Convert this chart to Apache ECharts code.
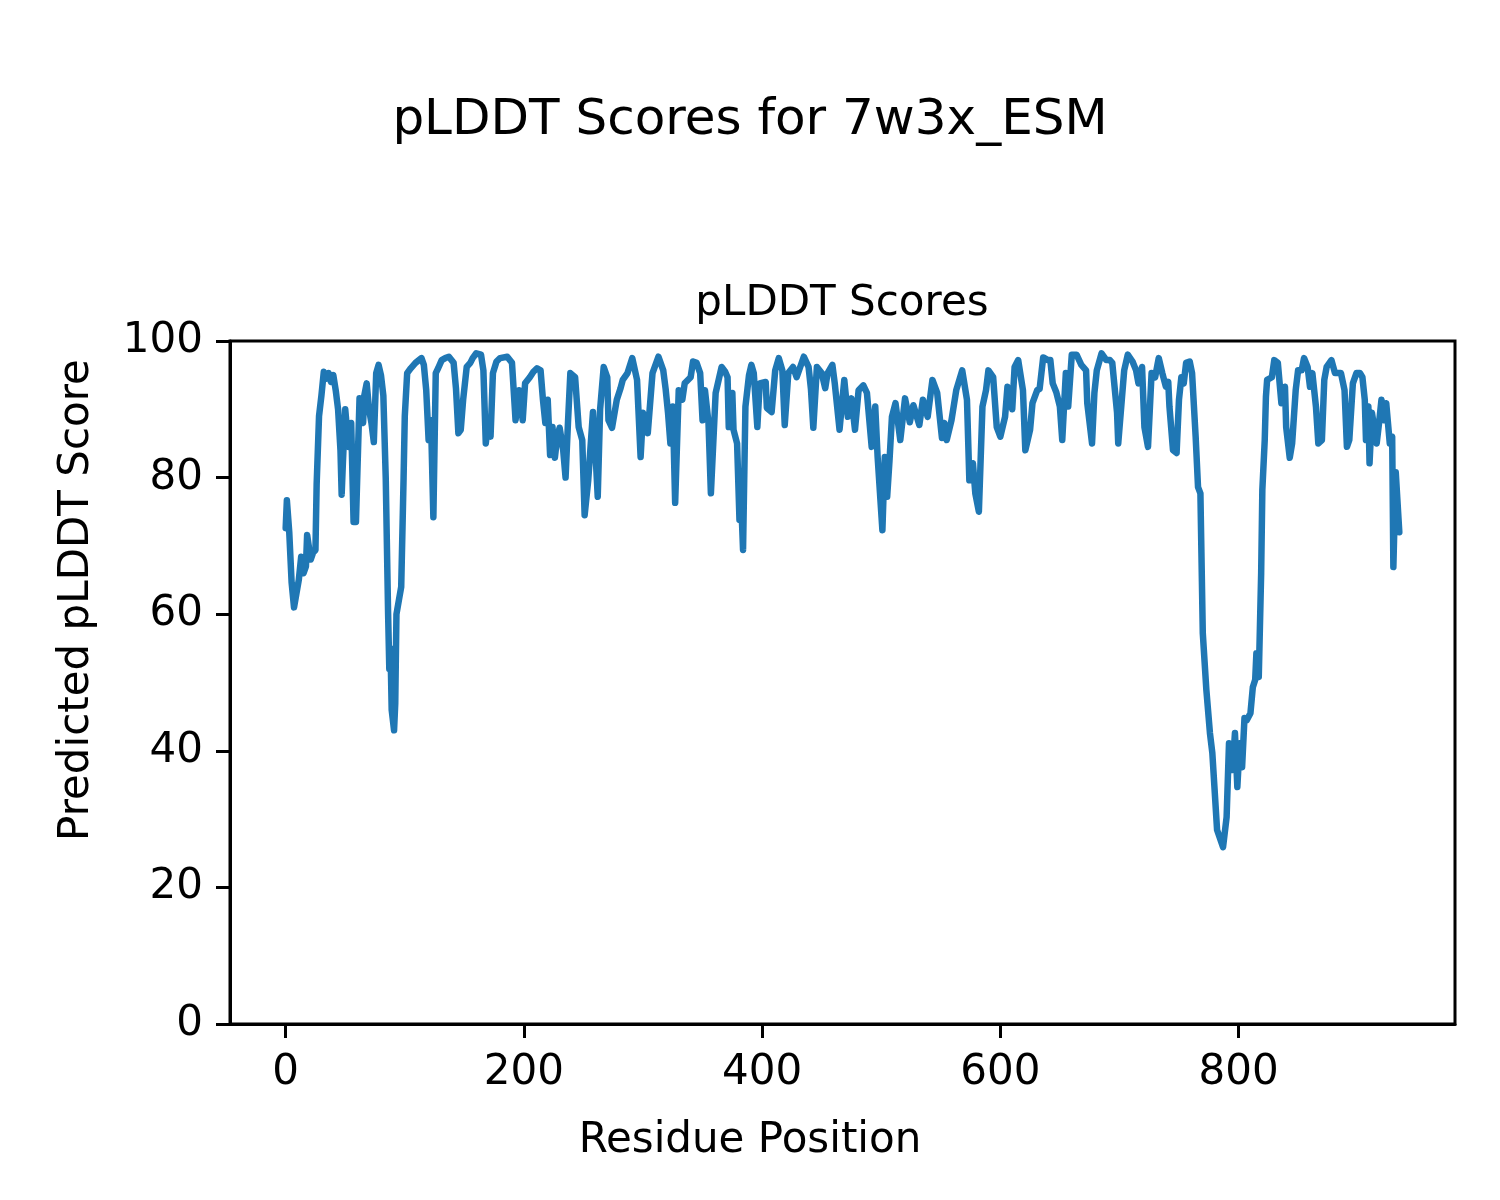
<!DOCTYPE html>
<html>
<head>
<meta charset="utf-8">
<title>pLDDT Scores for 7w3x_ESM</title>
<script src="https://cdn.jsdelivr.net/npm/echarts@6/dist/echarts.min.js"></script>
<style>
  html, body { margin: 0; padding: 0; background: #fff; }
  #main { width: 1500px; height: 1200px; }
</style>
</head>
<body>
<div id="main"></div>
<script>
// residue index and predicted pLDDT
var residues = [
  0, 1, 3, 5, 7, 9, 11, 13, 15, 17, 18, 21, 23, 25, 26, 28, 30, 32, 34, 36,
  38, 40, 42, 44, 46, 47, 48, 50, 52, 53, 55, 57, 59, 62, 63, 65, 66, 68, 70, 72,
  74, 76, 78, 80, 82, 84, 86, 87, 88, 89, 91, 92, 93, 95, 97, 98, 99, 100, 102, 105,
  109, 114, 116, 118, 120, 122, 124, 126, 128, 131, 134, 137, 141, 143, 145, 147, 149, 152, 155, 157,
  160, 164, 166, 168, 170, 172, 174, 177, 180, 186, 190, 193, 196, 199, 201, 205, 208, 211, 214, 216,
  218, 220, 222, 224, 226, 228, 230, 233, 235, 237, 239, 243, 246, 249, 251, 254, 258, 260, 262, 264,
  267, 270, 271, 274, 278, 281, 283, 287, 291, 295, 298, 300, 304, 308, 313, 317, 319, 321, 323, 325,
  327, 330, 333, 335, 340, 342, 345, 348, 350, 352, 355, 357, 361, 366, 369, 371, 372, 375, 376, 379,
  381, 383, 384, 386, 389, 391, 393, 396, 398, 403, 404, 408, 411, 414, 417, 419, 422, 426, 429, 432,
  435, 439, 441, 443, 446, 450, 453, 455, 459, 461, 465, 469, 472, 475, 478, 481, 485, 488, 492, 495,
  497, 501, 503, 505, 507, 509, 512, 516, 520, 524, 527, 532, 535, 539, 543, 547, 551, 553, 555, 559,
  563, 568, 572, 574, 577, 579, 582, 585, 588, 590, 594, 597, 600, 604, 606, 610, 612, 615, 619, 621,
  625, 627, 631, 633, 636, 640, 642, 644, 647, 650, 652, 655, 657, 660, 664, 668, 672, 673, 677, 679,
  681, 685, 689, 692, 694, 698, 699, 702, 704, 707, 711, 714, 716, 719, 721, 724, 727, 730, 733, 736,
  739, 741, 742, 745, 748, 750, 752, 754, 756, 759, 761, 764, 766, 768, 770, 773, 776, 778, 782, 787,
  790, 792, 795, 797, 799, 801, 803, 805, 807, 810, 812, 814, 815, 817, 819, 820, 822, 823, 824, 828,
  830, 833, 836, 839, 840, 843, 845, 848, 850, 853, 855, 858, 860, 862, 865, 867, 870, 872, 874, 878,
  881, 886, 889, 891, 893, 896, 899, 902, 904, 906, 907, 909, 910, 912, 916, 918, 920, 922, 924, 927,
  929, 930, 932, 935
];
var scores = [
  72.6, 76.7, 72, 64.6, 61, 63, 65, 68.4, 66, 67, 71.6, 68, 69, 69.4, 79, 89, 92, 95.5, 94.5, 95.3,
  94, 95, 92.8, 90, 84, 77.5, 82, 90, 86, 84.5, 88, 73.5, 73.5, 91.6, 90, 88, 92, 93.8, 90, 88,
  85.2, 95.3, 96.5, 95, 92, 80, 60, 52, 55, 46, 43, 47, 60, 62, 64, 64, 80, 89, 95.3, 96,
  96.8, 97.5, 96.5, 92.8, 85.5, 88.4, 74.2, 95.3, 96, 97.2, 97.5, 97.7, 96.8, 93, 86.5, 87, 91.4, 96.2, 96.8, 97.5,
  98.2, 98, 95.7, 85, 88, 86, 95.3, 97, 97.5, 97.7, 96.8, 88.4, 92.8, 88.4, 93.8, 94.7, 95.5, 96, 95.7, 91.4,
  88, 91.4, 83.3, 87.4, 82.9, 86, 87.3, 84, 80, 88, 95.3, 94.7, 87.4, 85.5, 74.5, 79.6, 89.6, 84, 77.2, 90,
  96.2, 94.7, 88.4, 87.3, 91.4, 93, 94.3, 95.3, 97.5, 94.3, 83, 89.5, 86.5, 95.3, 97.7, 95.7, 93, 89.5, 85, 90.4,
  76.3, 92.8, 91.4, 93.8, 94.7, 97, 96.8, 95.3, 88.4, 92.8, 88, 77.7, 92.4, 96.2, 95.5, 94.7, 87.4, 92.4, 87, 85,
  73.8, 74, 69.4, 90.4, 95, 96.5, 95.3, 87.4, 93.8, 94, 90.2, 89.6, 95.7, 97.5, 95.7, 87.7, 95.3, 96.2, 94.7, 96.2,
  97.7, 96.2, 93, 87.3, 96.2, 95.3, 93.1, 95.3, 96.5, 93.8, 87, 94.3, 88.9, 91.6, 87, 92.8, 93.5, 92.4, 84.5, 90.4,
  83, 72.3, 83, 77.2, 82.6, 88.9, 90.9, 85.5, 91.6, 88.1, 90.6, 87.7, 91.4, 88.9, 94.3, 92.4, 85.8, 88, 85.5, 88.4,
  92.8, 95.7, 91.4, 79.6, 82.1, 77.7, 75, 90.4, 92.8, 95.7, 94.7, 87.4, 86, 88.9, 93.3, 90, 96.2, 97.2, 92.8, 84,
  87, 90.9, 92.8, 93, 97.6, 97.2, 97.2, 93.8, 92.5, 90.4, 85.5, 95.3, 90.4, 98, 98, 96.5, 95.7, 90.9, 85, 92.4,
  95.7, 98.2, 97.2, 97.2, 96.8, 89.5, 85, 91.4, 95.7, 98, 97, 95.7, 93.8, 96.2, 87.4, 84.5, 95.3, 94.7, 97.5, 95.3,
  93.3, 94, 90.4, 84, 83.6, 91.4, 94.7, 93.8, 96.8, 97, 95.3, 86, 78.6, 77.7, 57.2, 48.9, 42.6, 39.7, 28.4, 25.9,
  30.3, 41.1, 37.2, 42.6, 34.7, 41.1, 37.6, 44.8, 44.5, 45.5, 49.3, 50.4, 54.3, 50.8, 66, 78.2, 85.5, 91.8, 94.3, 94.7,
  97.2, 96.8, 90.9, 93.3, 87.4, 82.9, 85, 92.8, 95.7, 95.7, 97.5, 96.2, 93.3, 95.3, 90.4, 85, 85.5, 94.3, 96.2, 97.2,
  95.3, 95.3, 92.8, 84.5, 85.5, 93.8, 95.3, 95.3, 94.7, 91.4, 85.5, 90.4, 82.1, 89.5, 85, 88, 91.4, 88.4, 90.9, 85,
  86, 66.9, 80.8, 72
];
var xTicks = [0, 200, 400, 600, 800];
var yTicks = [0, 20, 40, 60, 80, 100];

var FONT = 'DejaVu Sans';
var chart = echarts.init(document.getElementById('main'));

var points = residues.map(function (r, i) { return [r, scores[i]]; });

chart.setOption({
  animation: false,
  backgroundColor: '#ffffff',
  textStyle: { fontFamily: FONT, color: '#000' },
  title: [
    {
      text: 'pLDDT Scores for 7w3x_ESM',
      left: 'center',
      top: 96,
      padding: 0,
      textStyle: { fontSize: 50, fontWeight: 'normal', color: '#000', fontFamily: FONT }
    },
    {
      text: 'pLDDT Scores',
      left: 842,
      textAlign: 'center',
      top: 283,
      padding: 0,
      textStyle: { fontSize: 42, fontWeight: 'normal', color: '#000', fontFamily: FONT }
    },
    {
      text: 'Residue Position',
      left: 'center',
      top: 1120,
      padding: 0,
      textStyle: { fontSize: 42, fontWeight: 'normal', color: '#000', fontFamily: FONT }
    }
  ],
  graphic: [
    {
      type: 'text',
      x: 77,
      y: 600,
      rotation: Math.PI / 2,
      style: {
        text: 'Predicted pLDDT Score',
        fontSize: 42,
        fontFamily: FONT,
        fill: '#000',
        align: 'center',
        verticalAlign: 'middle'
      }
    }
  ],
  grid: {
    left: 230,
    top: 341,
    width: 1225,
    height: 683,
    show: true,
    borderColor: '#000',
    borderWidth: 3,
    backgroundColor: 'transparent'
  },
  xAxis: {
    type: 'value',
    min: -46.75,
    max: 981.75,
    axisLine: { show: true, onZero: false, lineStyle: { color: '#000', width: 3 } },
    axisTick: { show: true, length: 14, inside: false, customValues: xTicks, lineStyle: { color: '#000', width: 3 } },
    axisLabel: { customValues: xTicks, fontSize: 42, color: '#000', fontFamily: FONT, margin: 28 },
    splitLine: { show: false }
  },
  yAxis: {
    type: 'value',
    min: 0,
    max: 100,
    interval: 20,
    axisLine: { show: true, onZero: false, lineStyle: { color: '#000', width: 3 } },
    axisTick: { show: true, length: 14, inside: false, lineStyle: { color: '#000', width: 3 } },
    axisLabel: { fontSize: 42, color: '#000', fontFamily: FONT, margin: 27 },
    splitLine: { show: false }
  },
  series: [{
    type: 'line',
    data: points,
    showSymbol: false,
    symbol: 'none',
    smooth: false,
    clip: true,
    lineStyle: { color: '#1f77b4', width: 6.5, join: 'round', cap: 'round' }
  }]
});
</script>
</body>
</html>
